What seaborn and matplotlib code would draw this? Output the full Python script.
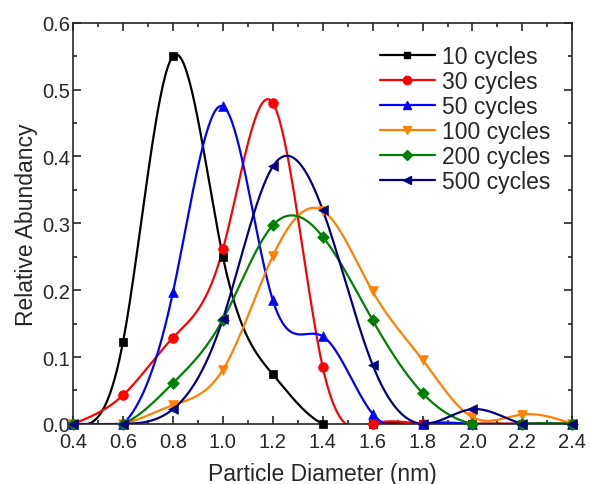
import numpy as np
import matplotlib
matplotlib.use('Agg')
import matplotlib.pyplot as plt
from matplotlib.lines import Line2D
from matplotlib.ticker import MultipleLocator
import seaborn as sns
import pandas as pd

# Dati
diameter = [0.4, 0.6, 0.8, 1.0, 1.2, 1.4, 1.6, 1.8, 2.0, 2.2, 2.4]
c10 = [0.0, 0.123, 0.550, 0.250, 0.074, 0.0, 0.0, 0.0, 0.0, 0.0, 0.0]
c30 = [0.0, 0.043, 0.129, 0.261, 0.480, 0.085, 0.0, 0.0, 0.0, 0.0, 0.0]
c50 = [0.0, 0.0, 0.197, 0.475, 0.185, 0.131, 0.015, 0.0, 0.0, 0.0, 0.0]
c100 = [0.0, 0.0, 0.028, 0.081, 0.251, 0.319, 0.198, 0.096, 0.010, 0.014, 0.0]
c200 = [0.0, 0.0, 0.061, 0.156, 0.297, 0.280, 0.155, 0.046, 0.0, 0.0, 0.0]
c500 = [0.0, 0.0, 0.022, 0.157, 0.385, 0.320, 0.088, 0.0, 0.022, 0.0, 0.0]

labels = ['10 cycles', '30 cycles', '50 cycles', '100 cycles', '200 cycles', '500 cycles']
series = [c10, c30, c50, c100, c200, c500]
colors = ['#000000', '#ff0000', '#0000ff', '#ff8000', '#008000', '#000080']
markers = ['s', 'o', '^', 'v', 'D', '<']
msizes = [6, 7, 7, 7, 6, 7]


def natural_spline(x, y, n=400):
    # spline cubica naturale, solo per disegnare la linea liscia tra i punti
    x = np.asarray(x, float)
    y = np.asarray(y, float)
    k = len(x)
    h = np.diff(x)
    A = np.zeros((k, k))
    b = np.zeros(k)
    A[0, 0] = A[-1, -1] = 1
    for i in range(1, k - 1):
        A[i, i - 1] = h[i - 1]
        A[i, i] = 2 * (h[i - 1] + h[i])
        A[i, i + 1] = h[i]
        b[i] = 3 * ((y[i + 1] - y[i]) / h[i] - (y[i] - y[i - 1]) / h[i - 1])
    c = np.linalg.solve(A, b)
    xs = np.linspace(x[0], x[-1], n)
    idx = np.clip(np.searchsorted(x, xs) - 1, 0, k - 2)
    dx = xs - x[idx]
    bb = (y[idx + 1] - y[idx]) / h[idx] - h[idx] * (2 * c[idx] + c[idx + 1]) / 3
    dd = (c[idx + 1] - c[idx]) / (3 * h[idx])
    ys = y[idx] + bb * dx + c[idx] * dx ** 2 + dd * dx ** 3
    return xs, ys


sns.set_style('ticks')
plt.rcParams['font.family'] = ['Liberation Sans', 'DejaVu Sans']

fig = plt.figure(figsize=(5.9, 4.85), dpi=100)
ax = fig.add_axes([0.124, 0.124, 0.846, 0.827])

handles = []
for vals, lab, col, mk, ms in zip(series, labels, colors, markers, msizes):
    xs, ys = natural_spline(diameter, vals)
    smooth = pd.DataFrame({'x': xs, 'y': ys})
    sns.lineplot(data=smooth, x='x', y='y', color=col, linewidth=1.6, ax=ax, sort=False)
    pts = pd.DataFrame({'x': diameter, 'y': vals})
    sns.scatterplot(data=pts, x='x', y='y', color=col, marker=mk, s=ms ** 2,
                    edgecolor=col, linewidth=0.5, ax=ax, zorder=3, clip_on=False)
    handles.append(Line2D([0], [0], color=col, marker=mk, markersize=ms - 1,
                          linewidth=1.6, label=lab))

ax.set_xlim(0.4, 2.4)
ax.set_ylim(0, 0.6)
ax.xaxis.set_major_locator(MultipleLocator(0.2))
ax.xaxis.set_minor_locator(MultipleLocator(0.1))
ax.yaxis.set_major_locator(MultipleLocator(0.1))
ax.yaxis.set_minor_locator(MultipleLocator(0.05))
ax.set_xticklabels([f'{v:.1f}' for v in ax.get_xticks()])
ax.set_yticklabels([f'{v:.1f}' for v in ax.get_yticks()])
ax.tick_params(which='both', direction='in', top=True, right=True, labelsize=14.5, width=1.2)
ax.tick_params(which='major', length=6)
ax.tick_params(which='minor', length=3)
ax.tick_params(axis='x', pad=6)
ax.tick_params(axis='y', pad=2)
for sp in ax.spines.values():
    sp.set_linewidth(1.2)

ax.set_xlabel('Particle Diameter (nm)', fontsize=16.5, labelpad=8)
ax.set_ylabel('Relative Abundancy', fontsize=16.5, labelpad=3)

ax.legend(handles=handles, loc='upper right', frameon=False, fontsize=16.5,
          handlelength=2.4, handletextpad=0.3, labelspacing=0.08,
          bbox_to_anchor=(0.997, 0.995))

fig.savefig('out.png', dpi=100)
